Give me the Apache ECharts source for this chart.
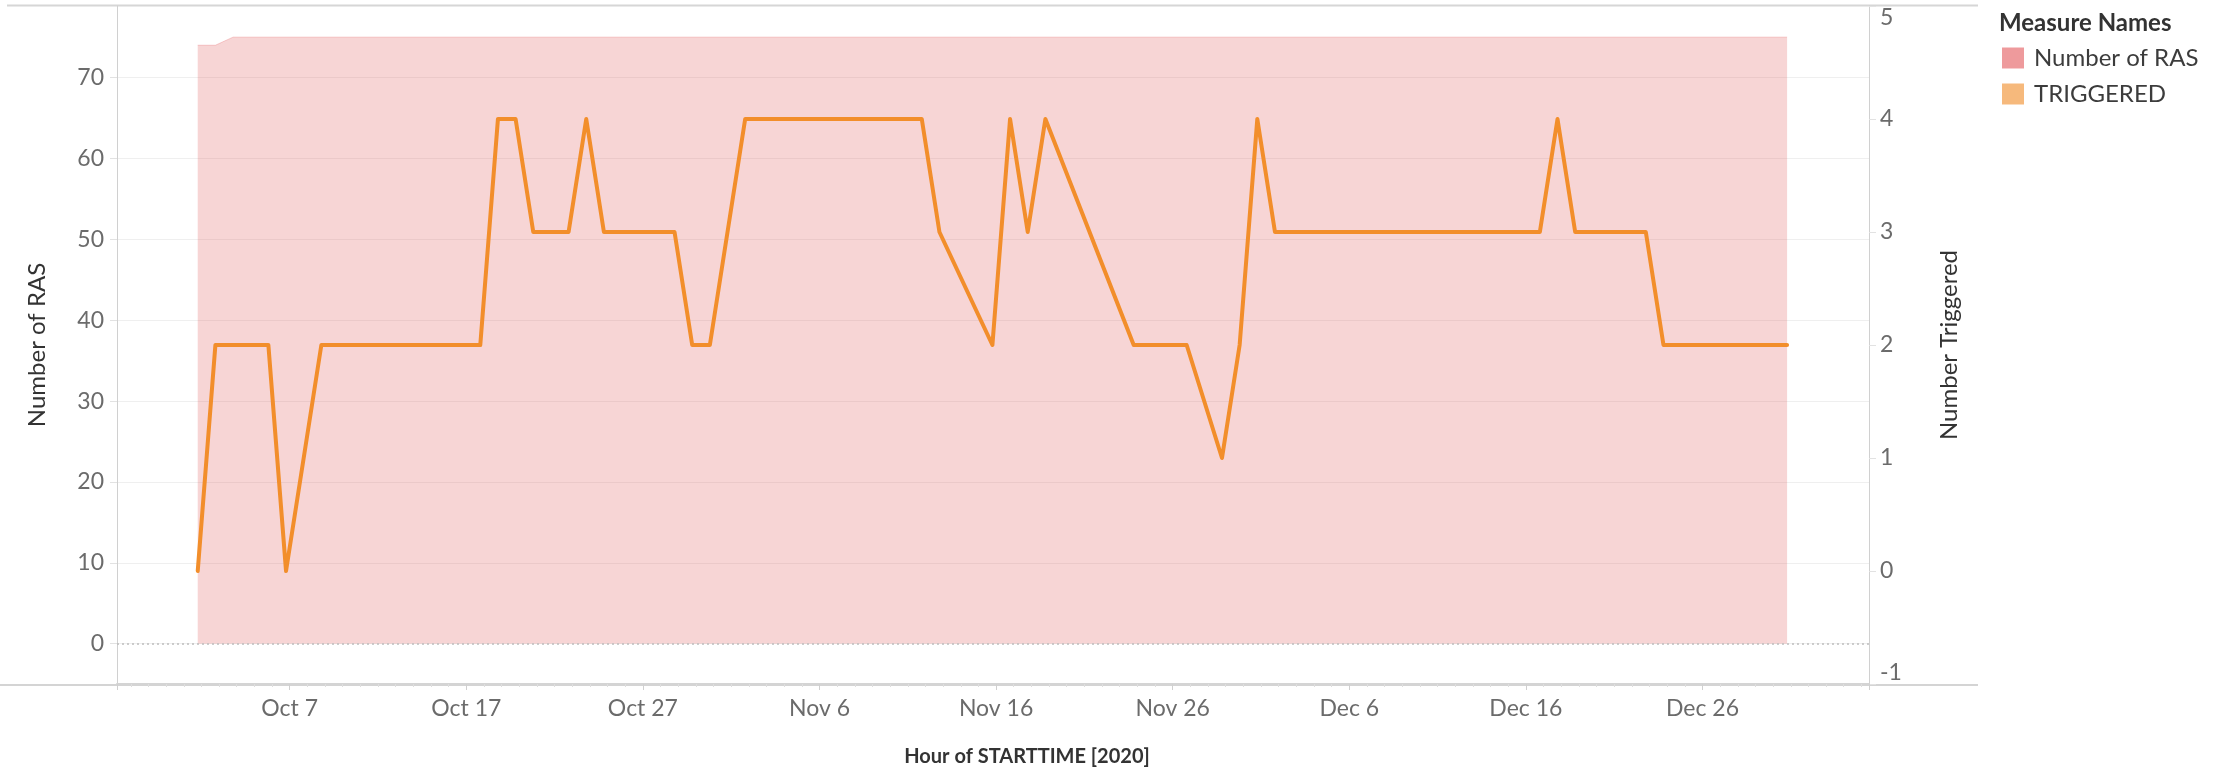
<!DOCTYPE html>
<html>
<head>
<meta charset="utf-8">
<title>Number of RAS / TRIGGERED</title>
<script src="https://cdn.jsdelivr.net/npm/echarts@6/dist/echarts.min.js"></script>
<style>
  html, body { margin: 0; padding: 0; background: #fff; }
  #main { width: 2236px; height: 772px; }
</style>
</head>
<body>
<div id="main"></div>
<script>
// hour of STARTTIME for each TRIGGERED point (UTC)
const triggeredTimes = [
  '2020-10-01T19:00', '2020-10-02T19:00', '2020-10-05T19:00', '2020-10-06T19:00', '2020-10-08T19:00',
  '2020-10-17T19:00', '2020-10-18T19:00', '2020-10-19T19:00', '2020-10-20T19:00', '2020-10-22T19:00',
  '2020-10-23T19:00', '2020-10-24T19:00', '2020-10-28T19:00', '2020-10-29T19:00', '2020-10-30T19:00',
  '2020-11-01T19:00', '2020-11-11T19:00', '2020-11-12T19:00', '2020-11-15T19:00', '2020-11-16T19:00',
  '2020-11-17T19:00', '2020-11-18T19:00', '2020-11-23T19:00', '2020-11-26T19:00', '2020-11-28T19:00',
  '2020-11-29T19:00', '2020-11-30T19:00', '2020-12-01T19:00', '2020-12-16T19:00', '2020-12-17T19:00',
  '2020-12-18T19:00', '2020-12-22T19:00', '2020-12-23T19:00', '2020-12-30T19:00'
];
const triggeredValues = [
  0, 2, 2, 0, 2,
  2, 4, 4, 3, 3,
  4, 3, 3, 2, 2,
  4, 4, 3, 2, 4,
  3, 4, 2, 2, 1,
  2, 4, 3, 3, 4,
  3, 3, 2, 2
];

// Number of RAS (area)
const rasTimes = ['2020-10-01T19:00', '2020-10-02T19:00', '2020-10-03T19:00', '2020-12-30T19:00'];
const rasValues = [74, 74, 75, 75];

// x tick labels, every 10 days starting Oct 7
const xTickStart = '2020-10-07T00:00';
const xTickLabels = ['Oct 7', 'Oct 17', 'Oct 27', 'Nov 6', 'Nov 16', 'Nov 26', 'Dec 6', 'Dec 16', 'Dec 26'];

// x is counted in days from the first tick
const origin = Date.parse(xTickStart + ':00Z');
function toDay(s) {
  return (Date.parse(s + ':00Z') - origin) / 86400000;
}
function pairs(times, values) {
  return times.map((t, i) => [toDay(t), values[i]]);
}

const tickColor = '#6b6b6b';
const titleColor = '#333333';
const font = 'Lato';

const chart = echarts.init(document.getElementById('main'));

chart.setOption({
  backgroundColor: '#ffffff',
  animation: false,
  title: {
    text: 'Measure Names',
    left: 1999,
    top: 11,
    padding: 0,
    textStyle: { fontFamily: font, fontWeight: 'bold', fontSize: 24, color: titleColor }
  },
  legend: {
    orient: 'vertical',
    left: 2002,
    top: 46,
    padding: 0,
    itemWidth: 22,
    itemHeight: 21,
    itemGap: 12,
    icon: 'rect',
    selectedMode: false,
    textStyle: { fontFamily: font, fontSize: 24, color: '#3c3c3c', padding: [0, 0, 0, 5] },
    data: [
      { name: 'Number of RAS', itemStyle: { color: '#EE9A9C', borderWidth: 0 } },
      { name: 'TRIGGERED', itemStyle: { color: '#F6B97C', borderWidth: 0 } }
    ]
  },
  grid: { left: 117, right: 367, top: 6, bottom: 87, containLabel: false },
  xAxis: {
    type: 'value',
    min: -9.78,
    max: 89.43,
    splitNumber: 10,
    name: 'Hour of STARTTIME [2020]',
    nameLocation: 'middle',
    nameGap: 63,
    nameTextStyle: { fontFamily: font, fontWeight: 'bold', fontSize: 20, color: titleColor, padding: [0, 0, 0, 68] },
    axisLine: { show: true, onZero: false, lineStyle: { color: '#d4d4d4', width: 2 } },
    axisTick: { show: true, length: 6, lineStyle: { color: '#d0d0d0' } },
    minorTick: { show: true, splitNumber: 10, length: 3, lineStyle: { color: '#dedede' } },
    splitLine: { show: false },
    axisLabel: {
      fontFamily: font, fontSize: 23, color: tickColor, margin: 13,
      showMinLabel: false, showMaxLabel: false,
      formatter: v => xTickLabels[Math.round(v / 10)] || ''
    }
  },
  yAxis: [
    {
      type: 'value',
      position: 'left',
      min: -4.98,
      max: 78.85,
      splitNumber: 8,
      name: 'Number of RAS',
      nameLocation: 'middle',
      nameRotate: 90,
      nameGap: 68,
      nameTextStyle: { fontFamily: font, fontSize: 24, color: titleColor },
      axisLine: { show: true, onZero: false, lineStyle: { color: '#d0d0d0', width: 1 } },
      axisTick: { show: true, length: 7, lineStyle: { color: '#e2e2e2' } },
      splitLine: { show: true, showMinLine: false, showMaxLine: false, lineStyle: { color: '#efefef', width: 1 } },
      axisLabel: {
        fontFamily: font, fontSize: 23, color: tickColor, margin: 13,
        showMinLabel: false, showMaxLabel: false
      }
    },
    {
      type: 'value',
      position: 'right',
      min: -1,
      max: 5,
      interval: 1,
      name: 'Number Triggered',
      nameLocation: 'middle',
      nameRotate: 90,
      nameGap: 68,
      nameTextStyle: { fontFamily: font, fontSize: 24, color: titleColor },
      axisLine: { show: true, onZero: false, lineStyle: { color: '#d0d0d0', width: 1 } },
      axisTick: { show: true, length: 7, lineStyle: { color: '#e2e2e2' } },
      splitLine: { show: false },
      axisLabel: {
        fontFamily: font, fontSize: 23, color: tickColor, margin: 11,
        verticalAlignMaxLabel: 'top', verticalAlignMinLabel: 'bottom'
      }
    }
  ],
  graphic: [
    { type: 'line', shape: { x1: 7, y1: 5.5, x2: 1978, y2: 5.5 }, style: { stroke: '#d6d6d6', lineWidth: 2 }, silent: true },
    { type: 'line', shape: { x1: 0, y1: 685, x2: 1978, y2: 685 }, style: { stroke: '#d4d4d4', lineWidth: 2 }, silent: true }
  ],
  series: [
    {
      name: 'Number of RAS',
      type: 'line',
      yAxisIndex: 0,
      data: pairs(rasTimes, rasValues),
      showSymbol: false,
      silent: true,
      itemStyle: { color: '#EE9A9C' },
      lineStyle: { color: 'rgba(225,87,89,0.28)', width: 1 },
      areaStyle: { color: 'rgba(225,87,89,0.25)', opacity: 1, origin: 0 },
      markLine: {
        silent: true,
        symbol: 'none',
        label: { show: false },
        lineStyle: { color: '#bdbdbd', type: [2, 3], width: 1.5 },
        data: [{ yAxis: 0 }]
      }
    },
    {
      name: 'TRIGGERED',
      type: 'line',
      yAxisIndex: 1,
      data: pairs(triggeredTimes, triggeredValues),
      showSymbol: false,
      silent: true,
      itemStyle: { color: '#F6B97C' },
      lineStyle: { color: '#F28E2B', width: 4, join: 'round', cap: 'round' }
    }
  ]
});
</script>
</body>
</html>
